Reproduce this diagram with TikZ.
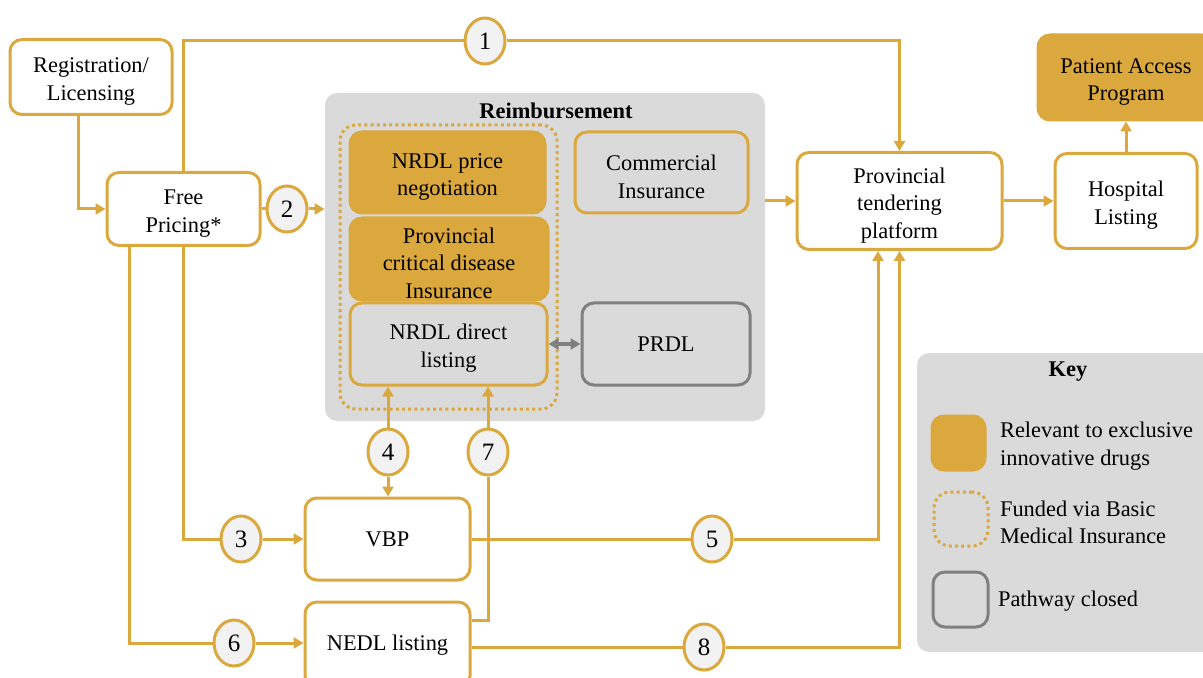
\documentclass[tikz,border=0pt]{standalone}
\usepackage{fontspec}
\setmainfont{Liberation Serif}
\usetikzlibrary{
  arrows.meta,
  positioning,
  shapes.geometric
}
\definecolor{gold}{HTML}{DBA83E}
\definecolor{panel}{HTML}{DADADA}
\definecolor{shut}{HTML}{808080}
\definecolor{bubble}{HTML}{F2F2F2}
\newcommand{\lift}{\rule{0pt}{12pt}}

\begin{document}
\begin{tikzpicture}[
  x=0.5pt,
  y=-0.5pt,
  font=\fontsize{11.2}{13.8}\selectfont,
  box/.style={
    draw=gold,
    line width=1.5pt,
    rounded corners=6pt,
    align=center,
    inner sep=0pt,
    fill=white
  },
  inbox/.style={
    box,
    fill=panel
  },
  hlbox/.style={
    box,
    fill=gold
  },
  closedbox/.style={
    box,
    draw=shut,
    fill=panel
  },
  bmi/.style={
    draw=gold,
    line width=1.5pt,
    dash pattern=on 1.5pt off 1.6pt,
    rounded corners=8pt
  },
  num/.style={
    ellipse,
    draw=gold,
    line width=1.5pt,
    fill=bubble,
    inner sep=0pt,
    minimum width=20pt,
    minimum height=23pt,
    font=\fontsize{12.5}{14}\selectfont
  },
  link/.style={
    draw=gold,
    line width=1.5pt
  },
  arrow/.style={
    link,
    -{Triangle[length=5pt,width=5.5pt]}
  }
]

\clip (0,0) rectangle (1203,678);

% panels
\node[fill=panel,rounded corners=6pt,minimum width=220pt,minimum height=164pt]
  (reimb) at (545,257) {};
\node[font=\fontsize{11.2}{13.8}\bfseries] (reimbtitle) at (556,111) {Reimbursement};
\node[fill=panel,rounded corners=6pt,minimum width=150pt,minimum height=149.5pt]
  (key) at (1067,502.5) {};
\node[font=\fontsize{11.2}{13.8}\bfseries] (keytitle) at (1068,372) {Key};

% boxes
\node[box,minimum width=81pt,minimum height=37.5pt] (reg) at (91,77)
  {\lift Registration/\\Licensing};
\node[box,minimum width=76.5pt,minimum height=36.5pt] (free) at (183.5,209)
  {\lift Free\\Pricing*};

\node[bmi,minimum width=108.5pt,minimum height=142pt] (fund) at (448.5,267) {};
\node[hlbox,minimum width=97.5pt,minimum height=40.5pt] (nego) at (447.5,172.5)
  {\lift NRDL price\\negotiation};
\node[hlbox,minimum width=99pt,minimum height=41pt] (crit) at (449,259)
  {\lift Provincial\\critical disease\\Insurance};
\node[inbox,minimum width=98.5pt,minimum height=41pt] (direct) at (448.5,344)
  {\lift NRDL direct\\listing};
\node[inbox,minimum width=86.5pt,minimum height=40.5pt] (comm) at (661.5,172.5)
  {\lift Commercial\\Insurance};
\node[closedbox,minimum width=84pt,minimum height=41pt] (prdl) at (666,344)
  {PRDL};

\node[box,minimum width=102.5pt,minimum height=48.5pt] (tender) at (899.5,201)
  {\lift Provincial\\tendering\\platform};
\node[box,minimum width=71pt,minimum height=47.5pt] (hosp) at (1126,201)
  {\lift Hospital\\Listing};
\node[hlbox,minimum width=88pt,minimum height=42.5pt] (pap) at (1126,77.5)
  {\lift Patient Access\\Program};

\node[box,minimum width=82.5pt,minimum height=41pt] (vbp) at (387.5,539)
  {VBP};
\node[box,minimum width=82.5pt,minimum height=43pt] (nedl) at (387.5,645)
  {NEDL listing};

% numbered steps
\node[num] (c1) at (485,41) {1};
\node[num] (c2) at (287,209) {2};
\node[num] (c3) at (241,539) {3};
\node[num] (c4) at (388,452) {4};
\node[num] (c5) at (712,539) {5};
\node[num] (c6) at (234,643) {6};
\node[num] (c7) at (488,452) {7};
\node[num] (c8) at (704,647) {8};

% key
\node[hlbox,minimum width=26.5pt,minimum height=27pt] (keyhl) at (958.5,443) {};
\node[bmi,minimum width=27pt,minimum height=27pt] (keyfund) at (961,519) {};
\node[closedbox,minimum width=27.5pt,minimum height=27.5pt] (keyshut) at (960.5,599.5) {};
\node[anchor=west,align=left] (keyhltext) at (993,442)
  {\lift Relevant to exclusive\\innovative drugs};
\node[anchor=west,align=left] (keyfundtext) at (993,518)
  {\lift Funded via Basic\\Medical Insurance};
\node[anchor=west,align=left] (keyshuttext) at (991,601)
  {Pathway closed};

% connectors
\draw[arrow] ([xshift=-6.5pt]reg.south) |- (free.west);
\draw[link] (free.north) |- (c1.west);
\draw[arrow] (c1.east) -| (tender.north);
\draw[link] (free.east) -- (c2.west);
\draw[arrow] (c2.east) -- (c2 -| reimb.west);
\draw[arrow] (reimb.east |- tender.west) -- (tender.west);
\draw[arrow] (tender.east) -- (hosp.west);
\draw[arrow] (hosp.north) -- (pap.south);
\draw[draw=shut,line width=1.5pt,{Triangle[length=5pt,width=5.5pt]}-{Triangle[length=5pt,width=5.5pt]}]
  (direct.east) -- (prdl.west);

\draw[link] (free.south) |- (c3.west);
\draw[arrow] (c3.east) -- (vbp.west);
\draw[link] ([xshift=-27.25pt]free.south) |- (c6.west);
\draw[arrow] (c6.east) -- (c6 -| nedl.west);

\draw[arrow] (c4.north) -- (c4 |- direct.south);
\draw[arrow] (c4.south) -- (c4 |- vbp.north);
\draw[link] ([yshift=12.5pt]nedl.east) -| (c7.south);
\draw[arrow] (c7.north) -- (c7 |- direct.south);

\draw[link] (vbp.east) -- (c5.west);
\draw[arrow] (c5.east) -| ([xshift=-10.75pt]tender.south);
\draw[link] (nedl.east |- c8) -- (c8.west);
\draw[arrow] (c8.east) -| (tender.south);

\end{tikzpicture}
\end{document}
